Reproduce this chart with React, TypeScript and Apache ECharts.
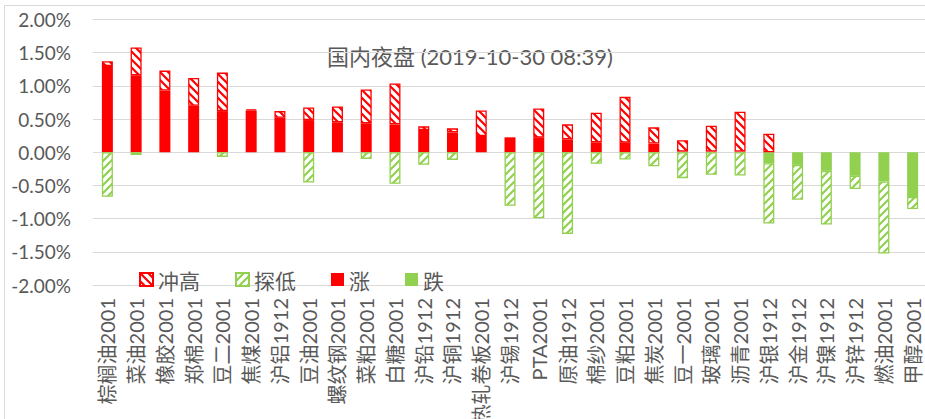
import React, { useEffect, useRef } from "react";
import * as echarts from "echarts";

const categories = [
  "棕榈油2001", "菜油2001", "橡胶2001", "郑棉2001", "豆二2001", "焦煤2001", "沪铝1912",
  "豆油2001", "螺纹钢2001", "菜粕2001", "白糖2001", "沪铅1912", "沪铜1912", "热轧卷板2001",
  "沪锡1912", "PTA2001", "原油1912", "棉纱2001", "豆粕2001", "焦炭2001", "豆一2001",
  "玻璃2001", "沥青2001", "沪银1912", "沪金1912", "沪镍1912", "沪锌1912", "燃油2001", "甲醇2001",
];

// 涨 (solid red, close > 0)
const riseVals: (number | string)[] = [
  1.30, 1.16, 0.93, 0.70, 0.62, 0.63, 0.52, 0.485, 0.45, 0.435, 0.42, 0.335, 0.30, 0.245,
  0.225, 0.22, 0.195, 0.15, 0.145, 0.13, 0.01, 0.01, 0.01, "-", "-", "-", "-", "-", "-",
];
// 跌 (solid green, close < 0)
const fallVals: (number | string)[] = [
  "-", "-", "-", "-", "-", "-", "-", "-", "-", "-", "-", "-", "-", "-",
  "-", "-", "-", "-", "-", "-", "-", "-", "-", -0.165, -0.19, -0.28, -0.355, -0.44, -0.675,
];
// 冲高 (hatched red, part above)
const upperVals: (number | string)[] = [
  0.07, 0.42, 0.30, 0.42, 0.58, 0.015, 0.10, 0.19, 0.24, 0.51, 0.615, 0.055, 0.06, 0.385,
  "-", 0.44, 0.225, 0.445, 0.69, 0.245, 0.17, 0.39, 0.60, 0.28, "-", "-", "-", "-", "-",
];
// 探低 (hatched green, part below)
const lowerVals: (number | string)[] = [
  -0.67, -0.04, "-", "-", -0.07, "-", "-", -0.455, "-", -0.10, -0.475, -0.19, -0.115, "-",
  -0.805, -0.995, -1.23, -0.175, -0.11, -0.21, -0.39, -0.34, -0.35, -0.91, -0.525, -0.81, -0.20, -1.085, -0.18,
];

const legendNames = ["冲高", "探低", "涨", "跌"];
const titleText = "国内夜盘 (2019-10-30 08:39)";

const RED = "#FF0000";
const GREEN = "#92D050";
const GRAY_TEXT = "#595959";
const GRID = "#D9D9D9";
const FONT = "Lato, 'Noto Sans CJK SC', sans-serif";

function makeHatch(color: string, down: boolean) {
  const s = 8;
  const c = document.createElement("canvas");
  c.width = s;
  c.height = s;
  const ctx = c.getContext("2d")!;
  ctx.fillStyle = "#ffffff";
  ctx.fillRect(0, 0, s, s);
  ctx.strokeStyle = color;
  ctx.lineWidth = 2.2;
  ctx.beginPath();
  if (down) {
    for (const k of [-s, 0, s]) {
      ctx.moveTo(-1, -1 + k);
      ctx.lineTo(s + 1, s + 1 + k);
    }
  } else {
    for (const k of [0, s, 2 * s]) {
      ctx.moveTo(-1, k + 1);
      ctx.lineTo(s + 1, k - s - 1);
    }
  }
  ctx.stroke();
  return { image: c.toDataURL(), repeat: "repeat", imageWidth: s, imageHeight: s };
}

export default function App() {
  const ref = useRef<HTMLDivElement>(null);
  useEffect(() => {
    if (!ref.current) return;
    const chart = echarts.init(ref.current, undefined, { renderer: "svg" });
    const redHatch = makeHatch(RED, true);
    const greenHatch = makeHatch(GREEN, false);
    const option: any = {
      animation: false,
      backgroundColor: "#ffffff",
      grid: {
        left: 93,
        top: 19.5,
        width: 834,
        height: 265.5,
        containLabel: false,
        outerBoundsMode: "none",
      },
      legend: {
        data: legendNames,
        left: 134,
        top: 264,
        icon: "rect",
        itemWidth: 13,
        itemHeight: 13,
        itemGap: 35,
        textStyle: { fontSize: 21, color: GRAY_TEXT, fontFamily: "'Noto Sans CJK SC', sans-serif" },
      },
      xAxis: {
        type: "category",
        data: categories,
        axisLine: { show: true, onZero: false, lineStyle: { color: GRID } },
        axisTick: { show: false },
        axisLabel: {
          rotate: 90,
          interval: 0,
          fontSize: 20,
          color: GRAY_TEXT,
          fontFamily: FONT,
          margin: 13,
        },
      },
      yAxis: {
        type: "value",
        min: -2,
        max: 2,
        interval: 0.5,
        axisLine: { show: false },
        axisTick: { show: false },
        splitLine: { lineStyle: { color: GRID, width: 1 } },
        axisLabel: {
          formatter: (v: number) => v.toFixed(2) + "%",
          fontSize: 19,
          color: GRAY_TEXT,
          fontFamily: FONT,
          margin: 22,
        },
      },
      graphic: [
        {
          type: "rect",
          shape: { x: 4.5, y: 5.5, width: 1000, height: 1000 },
          style: { fill: "none", stroke: GRID, lineWidth: 1 },
          silent: true,
        },
        {
          type: "text",
          x: 470,
          y: 56,
          style: {
            text: titleText,
            align: "center",
            verticalAlign: "middle",
            fontSize: 22,
            fill: GRAY_TEXT,
            fontFamily: FONT,
          },
        },
      ],
      series: [
        {
          name: "涨",
          type: "bar",
          stack: "total",
          barWidth: 11,
          data: riseVals,
          itemStyle: { color: RED },
        },
        {
          name: "跌",
          type: "bar",
          stack: "total",
          barWidth: 11,
          data: fallVals,
          itemStyle: { color: GREEN },
        },
        {
          name: "冲高",
          type: "bar",
          stack: "total",
          barWidth: 11,
          data: upperVals,
          itemStyle: { color: redHatch, borderColor: RED, borderWidth: 1.3 },
        },
        {
          name: "探低",
          type: "bar",
          stack: "total",
          barWidth: 11,
          data: lowerVals,
          itemStyle: { color: greenHatch, borderColor: GREEN, borderWidth: 1.3 },
        },
      ],
    };
    chart.setOption(option);
    return () => chart.dispose();
  }, []);
  return (
    <div
      ref={ref}
      style={{ position: "absolute", left: 0, top: 0, width: 925, height: 419, background: "#fff" }}
    />
  );
}
